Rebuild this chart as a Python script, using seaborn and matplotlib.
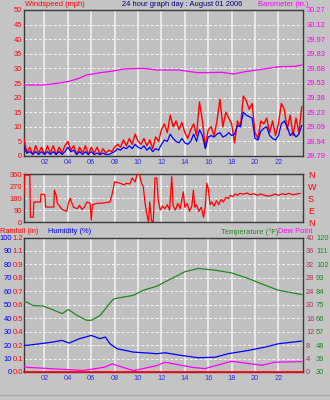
import numpy as np
import pandas as pd
import matplotlib
matplotlib.use("Agg")
import matplotlib.pyplot as plt
from matplotlib.lines import Line2D
import seaborn as sns

sns.set_style("dark")
plt.rcParams["font.family"] = ["Liberation Sans", "DejaVu Sans"]

# ---------------- data ----------------
hour_ticks = [2, 4, 6, 8, 10, 12, 14, 16, 18, 20, 22]
hour_labels = ["02", "04", "06", "08", "10", "12", "14", "16", "18", "20", "22"]

# wind speed, one sample every quarter hour (mph)
gust_mph = [6, 1, 3, 0.5, 3.5, 1, 3, 0.5,
            3.5, 1, 3.5, 0.5, 3, 1, 3.5, 5,
            2, 3.5, 0.5, 3, 1, 3.5, 0.5, 3,
            1, 3, 0.5, 2.5, 1, 2, 1.5, 3,
            4, 3, 5.5, 3.5, 6, 4, 7.5, 5,
            4, 6, 3.5, 5.5, 2.5, 6.5, 5, 9,
            11, 8, 14, 10, 12, 9, 11.5, 8,
            6, 9, 11, 7, 18.5, 12, 3, 9,
            10, 7, 12, 19.5, 10, 15, 13, 11,
            4.5, 12, 10, 20.5, 19, 16, 18, 8,
            6, 12, 11, 13, 8, 12, 7, 11,
            18, 16, 9, 14, 7, 13, 8, 17]
avg_mph = [3, 1, 1.5, 0.5, 1.5, 0.5, 1.5, 0.5,
           1.5, 0.5, 1.5, 0.5, 1.5, 0.5, 1.5, 3,
           1.5, 2, 0.5, 1.5, 0.5, 1.5, 0.5, 1.5,
           0.5, 1, 0.5, 1, 0.5, 0.5, 1, 1.5,
           2.5, 2, 3, 2.5, 3.5, 2.5, 4, 3,
           2.5, 3.5, 2, 3, 1.5, 2.5, 2, 4,
           5.5, 5, 7.5, 6, 5, 4.5, 6, 4.5,
           4, 5, 7.5, 5, 9, 7, 2.5, 6.5,
           7, 6.5, 7.5, 8, 6.5, 7, 8, 7,
           7.5, 10.5, 10, 15, 14, 13.5, 13, 6,
           5.5, 8.5, 9.5, 10, 7, 6, 5.5, 7,
           11, 12, 10, 7, 8, 6.5, 7.5, 10.5]
wind_hours = 0.25 * np.arange(1, len(gust_mph) + 1)

baro_hours = [0.25, 1.9, 3.0, 3.9, 4.2, 5.0, 5.6, 6.75, 7.9, 8.75, 10.45,
              11.6, 13.45, 15.15, 17.15, 18.15, 19.15, 20.6, 22.0, 23.4, 24.0]
baro_in = [29.51, 29.51, 29.525, 29.543, 29.55, 29.58, 29.611, 29.634, 29.652,
           29.672, 29.679, 29.662, 29.662, 29.634, 29.638, 29.621, 29.645,
           29.669, 29.695, 29.699, 29.712]
baro_ticks = ["28.79", "28.94", "29.09", "29.23", "29.38", "29.53",
              "29.68", "29.83", "29.97", "30.12", "30.27"]

dir_hours = [0.25, 0.3, 0.75, 0.8, 1.04, 1.09, 1.66, 1.7, 2.0, 2.05, 2.1, 2.8,
             2.85, 3.0, 3.1, 3.35, 3.5, 3.9, 4.07, 4.2, 4.35, 4.5, 4.8, 5.0,
             5.2, 5.4, 5.63, 5.9, 6.0, 6.1, 6.5, 7.0, 7.6, 7.76, 8.0, 8.5,
             8.8, 9.0, 9.3, 9.5, 9.75, 9.9, 10.1, 10.3, 10.45, 10.6, 10.75,
             10.9, 11.0, 11.15, 11.3, 11.45, 11.6, 11.73, 11.9, 12.1, 12.3,
             12.5, 12.7, 12.88, 13.0, 13.2, 13.4, 13.6, 13.87, 14.0, 14.2,
             14.4, 14.6, 14.73, 14.85, 15.0, 15.2, 15.4, 15.6, 15.75, 15.87,
             16.0, 16.15, 16.3, 16.5, 16.7, 16.9, 17.1, 17.3, 17.5, 17.7,
             17.9, 18.1, 18.3, 18.5, 18.7, 19.0, 19.3, 19.6, 19.9, 20.2,
             20.5, 20.8, 21.1, 21.4, 21.7, 22.0, 22.3, 22.6, 22.9, 23.2,
             23.5, 23.85]
dir_deg = [200, 352, 352, 36, 36, 150, 150, 208, 208, 188, 112, 112,
           239, 200, 140, 112, 95, 80, 150, 178, 140, 110, 100, 125,
           95, 110, 150, 140, 11, 130, 140, 142, 150, 200, 302, 290,
           278, 290, 285, 330, 300, 352, 360, 290, 264, 140, 60,
           0, 150, 10, 0, 330, 330, 160, 90, 120, 100,
           130, 90, 340, 120, 90, 140, 100, 226, 110, 140,
           80, 120, 239, 110, 130, 80, 110, 36, 120, 292,
           250, 130, 150, 120, 160, 130, 170, 150, 185, 175,
           200, 190, 210, 200, 215, 208, 218, 205, 212, 200,
           210, 200, 195, 198, 210, 200, 212, 205, 215, 205,
           208, 215]

temp_hours = [0.25, 0.5, 1.0, 1.9, 2.5, 3.5, 4.05, 4.8, 5.6, 6.0, 6.75, 7.3,
              7.75, 8.0, 9.6, 10.45, 11.6, 12.3, 13.0, 14.0, 15.15, 16.6,
              18.0, 19.4, 20.85, 22.0, 24.0]
temp_f = [77.0, 76.8, 74.5, 74.1, 72.3, 69.1, 71.8, 67.8, 64.6, 64.6, 67.8,
          73.2, 77.7, 79.1, 81.3, 84.7, 87.4, 90.3, 93.0, 97.1, 99.3, 98.1,
          96.3, 92.6, 88.1, 84.7, 81.8]

hum_hours = [0.25, 0.5, 1.6, 2.5, 3.5, 4.1, 5.0, 6.0, 6.75, 7.2, 7.6, 8.2,
             9.6, 11.0, 11.6, 12.3, 13.7, 15.15, 16.6, 17.7, 19.4, 20.85,
             22.0, 24.0]
hum_pct = [20, 19.8, 21, 22, 23.5, 21.5, 24.8, 27.2, 24.8, 26, 21, 17.3,
           14.8, 14, 13.6, 14.3, 12.3, 10.6, 11, 13.6, 16, 18.5, 21, 23]

dew_hours = [0.25, 0.5, 2.5, 5.3, 7.1, 7.8, 9.6, 11.6, 12.3, 14.6, 15.7,
             18.0, 20.6, 21.7, 24.0]
dew_pt = [1.6, 1.4, 1.0, 0.45, 1.4, 2.4, 0.4, 1.9, 2.9, 1.4, 1.0, 3.2, 2.0,
          2.9, 3.1]

rain_hours = [0.25, 24.1]
rain_in = [0.0, 0.0]

hum_ticks = [str(v) for v in range(0, 101, 10)]
rain_ticks = ["0.0", "0.1", "0.2", "0.4", "0.5", "0.6", "0.7", "0.8", "0.9",
              "1.1", "1.2"]
dew_ticks = [str(v) for v in range(0, 41, 4)]
temp_ticks = [str(v) for v in range(30, 121, 9)]

# ---------------- style ----------------
W, H = 330, 400
BG = "#c4c4c4"
PANEL = "#c0c0c0"
FS = 5.4
RED = "#ff0000"
BLUE = "#0000ff"
MAG = "#ff00ff"
GREEN = "#1f8a1f"
NAVY = "#000080"
TICKBLUE = "#3030f0"
DEWC = "#b8305e"
XLIM = (0.25, 24.1)


def box(x0, y0, x1, y1):
    return [x0 / W, 1 - y1 / H, (x1 - x0) / W, (y1 - y0) / H]


def style_panel(ax, show_x):
    ax.set_facecolor(PANEL)
    ax.set_xlim(*XLIM)
    ax.set_xticks(hour_ticks)
    ax.set_xticklabels(hour_labels if show_x else [])
    ax.tick_params(axis="x", length=0, pad=2, labelsize=FS, labelcolor=TICKBLUE)
    ax.tick_params(axis="y", length=0)
    ax.xaxis.grid(True, color="#f4f4f4", lw=1.1, ls="-")
    ax.yaxis.grid(True, color="#f4f4f4", lw=0.7, ls=(0, (3, 2)))
    ax.set_axisbelow(True)
    for s in ax.spines.values():
        s.set_color("#3a3a3a")
        s.set_linewidth(1.0)
        s.set_visible(True)
    ax.set_xlabel("")
    ax.set_ylabel("")


def line(ax, xs, ys, color, lw=0.9, zorder=3):
    df = pd.DataFrame({"h": xs, "v": ys})
    sns.lineplot(data=df, x="h", y="v", ax=ax, color=color, lw=lw,
                 estimator=None, sort=False, zorder=zorder)


fig = plt.figure(figsize=(W / 100, H / 100), dpi=100, facecolor=BG)

# ---- wind speed / barometer ----
ax1 = fig.add_axes(box(24, 10, 303, 156))
line(ax1, wind_hours, gust_mph, RED, lw=1.0)
line(ax1, wind_hours, avg_mph, BLUE, lw=0.9, zorder=4)
style_panel(ax1, True)
ax1.set_ylim(0, 50)
ax1.set_yticks(range(0, 51, 5))
ax1.tick_params(axis="y", labelsize=FS, labelcolor=RED, pad=1.5)

ax1b = ax1.twinx()
line(ax1b, baro_hours, baro_in, MAG, lw=0.9)
ax1b.set_ylim(28.79, 30.27)
ax1b.set_yticks(np.linspace(28.79, 30.27, 11))
ax1b.set_yticklabels(baro_ticks)
ax1b.tick_params(axis="y", length=0, labelsize=FS, labelcolor=MAG, pad=2.5)
ax1b.set_ylabel("")
ax1b.grid(False)
for s in ax1b.spines.values():
    s.set_visible(False)

# ---- wind direction ----
ax2 = fig.add_axes(box(24, 174, 303, 222))
line(ax2, dir_hours, dir_deg, RED, lw=0.9)
style_panel(ax2, False)
ax2.set_ylim(0, 360)
ax2.set_yticks([0, 90, 180, 270, 360])
ax2.tick_params(axis="y", labelsize=FS, labelcolor=RED, pad=1.5)

ax2b = ax2.twinx()
ax2b.set_ylim(0, 360)
ax2b.set_yticks([0, 90, 180, 270, 360])
ax2b.set_yticklabels(["N", "E", "S", "W", "N"])
ax2b.tick_params(axis="y", length=0, labelsize=6.5, labelcolor=RED, pad=3.5)
ax2b.grid(False)
for s in ax2b.spines.values():
    s.set_visible(False)

# ---- rain / humidity / temperature / dew point ----
ax3 = fig.add_axes(box(24, 237.5, 303, 372))
line(ax3, hum_hours, hum_pct, BLUE, lw=0.9)
style_panel(ax3, True)
ax3.set_ylim(0, 100)
ax3.set_yticks(range(0, 101, 10))
ax3.set_yticklabels(hum_ticks)
ax3.tick_params(axis="y", labelsize=FS, labelcolor=BLUE, pad=8.8)

ax3r = ax3.twinx()
line(ax3r, rain_hours, rain_in, RED, lw=1.2)
ax3r.set_ylim(0, 1.2)
ax3r.set_yticks(np.linspace(0, 1.2, 11))
ax3r.set_yticklabels(rain_ticks)
ax3r.yaxis.set_ticks_position("left")
ax3r.tick_params(axis="y", length=0, labelsize=FS, labelcolor=RED, pad=0.8)
ax3r.set_ylabel("")
ax3r.grid(False)
for s in ax3r.spines.values():
    s.set_visible(False)
for l in ax3r.get_lines():
    l.set_clip_on(False)

ax3d = ax3.twinx()
line(ax3d, dew_hours, dew_pt, MAG, lw=0.9)
ax3d.set_ylim(0, 40)
ax3d.set_yticks(range(0, 41, 4))
ax3d.set_yticklabels(dew_ticks)
ax3d.tick_params(axis="y", length=0, labelsize=FS, labelcolor=DEWC, pad=2.2)
ax3d.set_ylabel("")
ax3d.grid(False)
for s in ax3d.spines.values():
    s.set_visible(False)

ax3t = ax3.twinx()
line(ax3t, temp_hours, temp_f, GREEN, lw=0.9)
ax3t.set_ylim(30, 120)
ax3t.set_yticks(range(30, 121, 9))
ax3t.set_yticklabels(temp_ticks)
ax3t.tick_params(axis="y", length=0, labelsize=FS, labelcolor=GREEN, pad=9.4)
ax3t.set_ylabel("")
ax3t.grid(False)
for s in ax3t.spines.values():
    s.set_visible(False)

for a in (ax1b, ax2b, ax3r, ax3d, ax3t):
    a.set_xlim(*XLIM)
    a.set_xlabel("")


# ---- headings ----
def label(x, y, s, color, ha="left"):
    fig.text(x / W, 1 - y / H, s, color=color, fontsize=FS, ha=ha, va="center")


label(25, 5, "Windspeed (mph)", RED)
label(182, 5, "24 hour graph day : August 01 2006", NAVY, ha="center")
label(308, 5, "Barometer (in.)", MAG, ha="right")
label(0, 232, "Rainfall (in)", RED)
label(48, 232, "Humidity (%)", BLUE)
label(278, 232, "Temperature (\u00b0F)", GREEN, ha="right")
label(278, 232, "Dew Point", MAG)

fig.add_artist(Line2D([0, 1], [1 - 395 / H] * 2, color="#a8a8a8", lw=1))

fig.savefig("out.png", dpi=100, facecolor=BG)
